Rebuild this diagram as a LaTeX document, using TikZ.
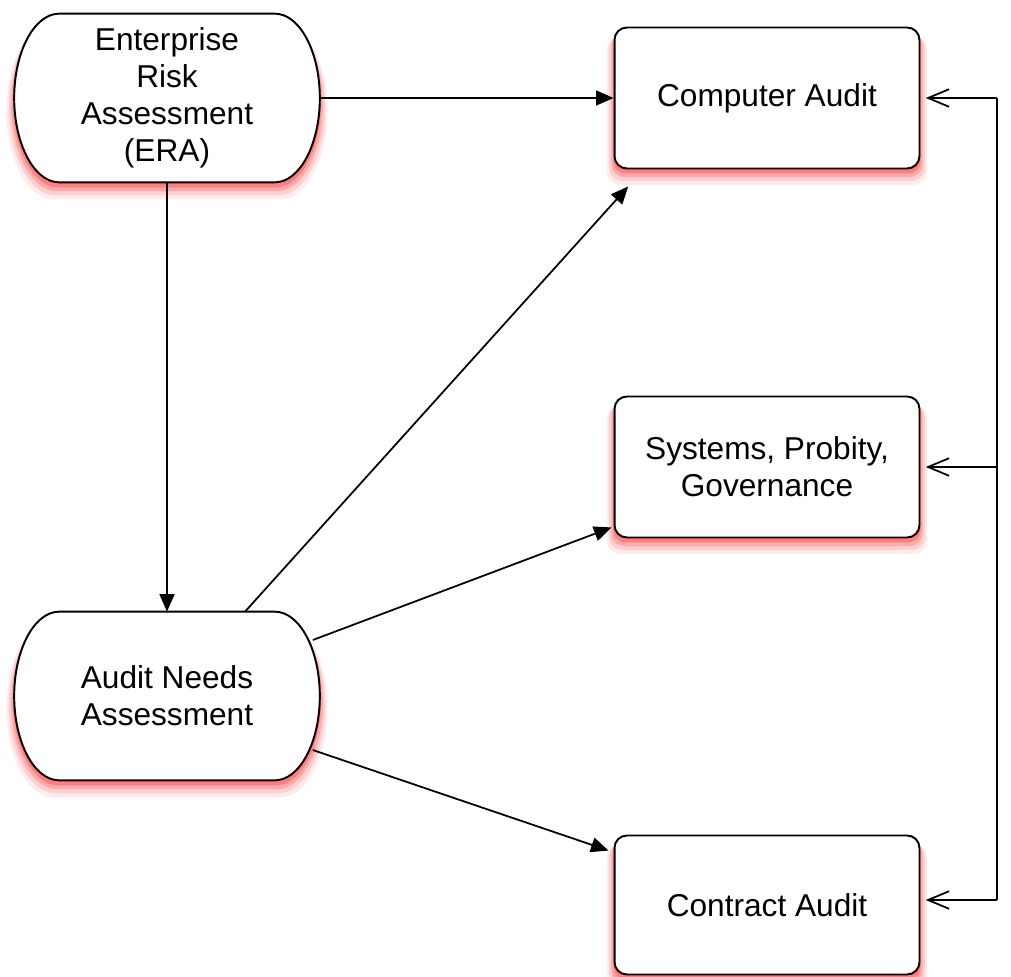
\documentclass[tikz,border=0pt]{standalone}
\usepackage{fontspec}
\setmainfont{Liberation Sans}
\usetikzlibrary{arrows.meta,shadows,calc}
\pgfdeclarelayer{background}
\pgfsetlayers{background,main}
\tikzstyle{glow}=[drop shadow={shadow xshift=0pt, shadow yshift=-7pt, shadow scale=1.05, fill=red, opacity=.08}
,drop shadow={shadow xshift=0pt, shadow yshift=-5.5pt, shadow scale=1.035, fill=red, opacity=.12}
,drop shadow={shadow xshift=0pt, shadow yshift=-4pt, shadow scale=1.02, fill=red, opacity=.18}
,drop shadow={shadow xshift=0pt, shadow yshift=-2.5pt, shadow scale=1.008, fill=red!90, opacity=.3}
]
\tikzstyle{assess}=[rectangle, minimum width=6.1cm, minimum height=3.36cm
,inner sep=0pt, align=center, font=\fontsize{18}{21}\selectfont
]
\tikzstyle{pill}=[draw, line width=1.1pt, fill=white, line join=round]
\tikzstyle{audit}=[rectangle, rounded corners=7pt
,draw, line width=1.1pt, fill=white
,minimum width=6.1cm, minimum height=2.82cm
,inner sep=0pt, align=center, font=\fontsize{18}{21}\selectfont
,glow
]
\tikzstyle{edge} = [draw, line width=1pt, -{Triangle[length=10pt,width=8.5pt]}]
\tikzstyle{feed} = [draw, line width=1pt, -{Straight Barb[length=12pt,width=10pt]}, shorten >=3pt]

\begin{document}
\begin{tikzpicture}[x=0.02cm, y=-0.02cm]
    \useasboundingbox (0,0) rectangle (1011,977);
    % the two assessments on the left
    \node[assess] (era) at (167,98) {Enterprise\\Risk\\Assessment\\(ERA)};
    \node[assess] (ana) at (167,696) {Audit Needs\\Assessment};
    % their outlines, flat on top and bottom, curved at the ends
    \begin{pgfonlayer}{background}
    \foreach \n in {era,ana}
        \path[pill, glow] ($(\n.north west)+(45,0)$) -- ($(\n.north east)+(-45,0)$)
            .. controls +(25,0) and +(0,-46) .. (\n.east)
            .. controls +(0,46) and +(25,0) .. ($(\n.south east)+(-45,0)$)
            -- ($(\n.south west)+(45,0)$)
            .. controls +(-25,0) and +(0,46) .. (\n.west)
            .. controls +(0,-46) and +(-25,0) .. ($(\n.north west)+(45,0)$) -- cycle;
    \end{pgfonlayer}

    % the three audits on the right
    \node[audit] (ca) at (767,98) {Computer Audit};
    \node[audit] (spg) at (767,467) {Systems, Probity,\\Governance};
    \node[audit, minimum height=2.78cm] (cta) at (767,905) {Contract Audit};

    % arrows out of the assessments
    \path[edge] (era.east) -- (ca.west);
    \path[edge] (era.south) -- (ana.north);
    \path[edge, shorten >=13pt] ($(ana.north)+(78,0)$) -- ($(ca.south west)+(30,0)$);
    \path[edge] ($(ana.east)+(-7,-56)$) -- ($(spg.south west)+(-2,-11)$);
    \path[edge] ($(ana.east)+(-7,54)$) -- ($(cta.north west)+(-5,16)$);

    % feedback line on the right
    \coordinate (bus) at (997,0);
    \path[draw, line width=1pt] (ca.east -| bus) -- ($(cta.east -| bus)+(0,-5)$);
    \foreach \dest/\dy in {ca/0, spg/0, cta/-5}
        \path[feed] ($(\dest.east -| bus)+(0,\dy)$) -- ($(\dest.east)+(0,\dy)$);
\end{tikzpicture}
\end{document}
